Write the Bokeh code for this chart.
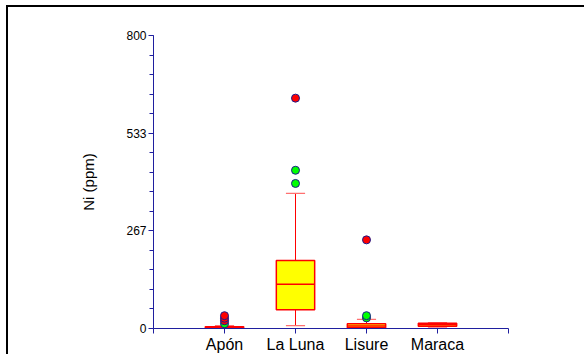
from bokeh.plotting import figure
from bokeh.models import FixedTicker, CustomJSTickFormatter, Range1d, ColumnDataSource
from bokeh.embed import file_html
from bokeh.resources import INLINE

# Ni concentration (ppm) by formation: box summaries and flagged points
formations = ["Apón", "La Luna", "Lisure", "Maraca"]
low_whisker = [0, 8, 0, 4]
q1 = [0.5, 51, 2, 6]
median = [2, 121, 7, 10]
q3 = [4.5, 186, 13, 14.5]
high_whisker = [8, 369, 25, 16]

# outliers (beyond 1.5 IQR) and extremes (beyond 3 IQR)
outlier_group = [1, 2, 2, 3, 3]
outlier_value = [13, 396, 432, 29, 35]
extreme_group = [1, 1, 1, 2, 3]
extreme_value = [21, 28, 35, 629, 242]

y_ticks = [0, 800 / 3, 1600 / 3, 800]

RED = "#FF0000"
YELLOW = "#FFFF00"
AXIS = "#1F1F9F"
FONT = "Liberation Sans"

pos = list(range(1, len(formations) + 1))
box_w = 0.54
cap_w = 0.27

src = ColumnDataSource(dict(
    x=pos, lo=low_whisker, q1=q1, med=median, q3=q3, hi=high_whisker,
    bl=[x - box_w / 2 for x in pos], br=[x + box_w / 2 for x in pos],
    cl=[x - cap_w / 2 for x in pos], cr=[x + cap_w / 2 for x in pos],
))

p = figure(
    width=578, height=349,
    x_range=Range1d(0, 5), y_range=Range1d(0, 800),
    output_backend="svg", toolbar_location=None,
    min_border_left=145, min_border_right=78,
    min_border_top=28, min_border_bottom=28,
    styles={"margin-left": "6px", "margin-top": "5px",
            "border-top": "2px solid black", "border-left": "2px solid black"},
)
p.outline_line_color = None
p.xgrid.visible = False
p.ygrid.visible = False
p.background_fill_color = "white"
p.border_fill_color = "white"

# whiskers
p.segment(x0="x", y0="lo", x1="x", y1="q1", source=src, line_color=RED, line_width=1)
p.segment(x0="x", y0="q3", x1="x", y1="hi", source=src, line_color=RED, line_width=1)
p.segment(x0="cl", y0="lo", x1="cr", y1="lo", source=src, line_color="#FF7070", line_width=1.2)
p.segment(x0="cl", y0="hi", x1="cr", y1="hi", source=src, line_color="#FF7070", line_width=1.2)

# boxes and medians
p.quad(left="bl", right="br", bottom="q1", top="q3", source=src,
       fill_color=YELLOW, line_color=RED, line_width=1.5)
p.segment(x0="bl", y0="med", x1="br", y1="med", source=src, line_color=RED, line_width=1.5)

# flagged points
p.scatter(outlier_group, outlier_value, size=8, fill_color="#00FF00",
          line_color="#1A1A8C", line_width=1)
p.scatter(extreme_group, extreme_value, size=8, fill_color=RED,
          line_color="#1A1A8C", line_width=1)

# x axis
xa = p.xaxis[0]
xa.ticker = FixedTicker(ticks=[0, 1, 2, 3, 4, 5], minor_ticks=[])
xa.major_label_overrides = {0: "", 1: formations[0], 2: formations[1],
                            3: formations[2], 4: formations[3], 5: ""}
xa.axis_line_color = AXIS
xa.major_tick_line_color = AXIS
xa.major_tick_out = 5
xa.major_tick_in = 0
xa.minor_tick_line_color = None
xa.major_label_text_font = FONT
xa.major_label_text_font_size = "16px"
xa.major_label_text_color = "black"
xa.major_label_standoff = 2

# y axis
ya = p.yaxis[0]
ya.ticker = FixedTicker(ticks=y_ticks, minor_ticks=[i * 160 / 3 for i in range(16)])
ya.formatter = CustomJSTickFormatter(code="return Math.round(tick).toString();")
ya.axis_line_color = AXIS
ya.major_tick_line_color = AXIS
ya.minor_tick_line_color = AXIS
ya.major_tick_out = 5
ya.major_tick_in = 0
ya.minor_tick_out = 4
ya.minor_tick_in = 0
ya.major_label_text_font = FONT
ya.major_label_text_font_size = "12px"
ya.major_label_text_color = "black"
ya.major_label_standoff = 2
ya.axis_label = "Ni (ppm)"
ya.axis_label_text_font = FONT
ya.axis_label_text_font_size = "15px"
ya.axis_label_text_font_style = "normal"
ya.axis_label_text_color = "black"
ya.axis_label_standoff = 26

open("out.html", "w").write(file_html(p, INLINE))
